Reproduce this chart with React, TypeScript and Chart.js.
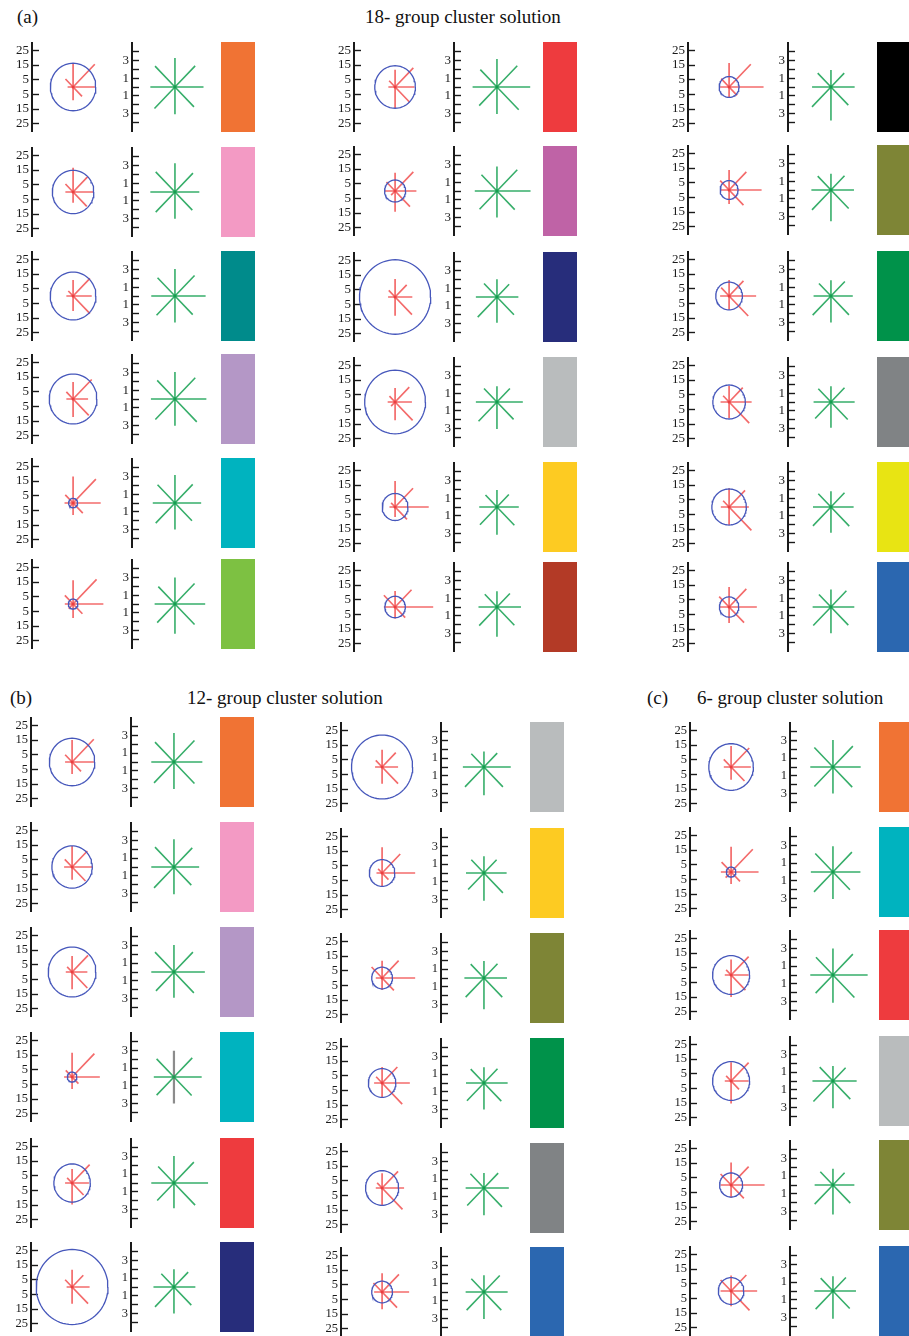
import React, { useEffect, useRef } from "react";
import { Chart, registerables } from "chart.js";
Chart.register(...registerables);

// ---------------- data ----------------
// spoke order for every star: E, NE, N, NW, W, SW, S, SE
const spokeAngles = [0, 45, 90, 135, 180, 225, 270, 315];
const sizeTicks = [-25, -15, -5, 5, 15, 25];
const shapeTicks = [-4, -3, -2, -1, 0, 1, 2, 3, 4];

// (a) 18-group solution, column 1
const circleA1 = [16.2, 14.8, 16.3, 17, 3.2, 3.4];
const redA1 = [
  [15.5, 21.9, 15.9, 7.7, 3.9, 0, 9.1, 9.0],
  [14.8, 14.8, 16.6, 7.7, 5.5, 0, 7.3, 13.8],
  [13.3, 17, 10.9, 4.8, 4.8, 0, 10.2, 17],
  [10.7, 18.8, 11.6, 6.8, 4.8, 0, 12.3, 15.8],
  [19.7, 23, 18, 7.9, 6.1, 3.7, 8.2, 9.8],
  [21.6, 23.7, 16.2, 8.3, 5.9, 4.5, 9.5, 9.4],
];
const greenA1 = [
  [3.4, 3.4, 3.3, 3.35, 2.93, 3.45, 3.1, 3.2],
  [2.9, 3.03, 3.27, 3.24, 2.93, 3.24, 3.04, 2.92],
  [3.65, 3.3, 3.08, 2.93, 2.82, 3.1, 3.0, 2.99],
  [3.74, 3.42, 3.08, 2.99, 2.86, 3.3, 3.04, 3.67],
  [3.12, 2.99, 3.19, 2.93, 2.64, 3.24, 3.0, 2.86],
  [3.6, 3.3, 3.0, 2.8, 2.42, 2.99, 3.38, 3.3],
];
const colorA1 = ["#f07334", "#f39ac4", "#008b8b", "#b497c6", "#00b3bf", "#7dc142"];

// (a) column 2
const circleA2 = [14.5, 7.5, 25.4, 21.7, 9.2, 7.3];
const redA2 = [
  [13.8, 18.4, 11.8, 6, 4.8, 0, 14.3, 14.7],
  [15.2, 18.4, 12.5, 8.7, 7.5, 4, 14.1, 15],
  [12.3, 11.7, 12.3, 6.4, 5, 0, 12.7, 17],
  [12, 14.3, 9.5, 5.7, 5.3, 4, 12.5, 17.7],
  [24, 18.1, 17.7, 4, 4, 0, 6.8, 12],
  [27.2, 16.6, 10.9, 11.3, 8, 0, 8, 10.2],
];
const greenA2 = [
  [3.96, 3.42, 3.19, 2.8, 2.9, 2.99, 3.08, 3.66],
  [4.0, 3.42, 2.78, 2.61, 2.64, 2.93, 3.0, 2.99],
  [2.55, 2.05, 2.03, 2.18, 2.51, 3.24, 2.93, 2.86],
  [3.08, 2.18, 1.8, 2.18, 2.51, 3.1, 3.08, 2.8],
  [2.6, 2.0, 1.92, 1.93, 2.11, 2.86, 3.15, 2.93],
  [2.86, 2.18, 1.8, 2.05, 2.2, 2.99, 3.38, 2.93],
];
const colorA2 = ["#ee3b3e", "#bf63a6", "#272d7b", "#b9bcbd", "#fdcb22", "#b33a26"];

// (a) column 3
const circleA3 = [7.1, 6.4, 9.5, 11.6, 12.3, 6.9];
const redA3 = [
  [24.6, 21.9, 16.4, 8, 6.4, 0, 6.8, 8],
  [23.2, 17.4, 13.6, 9, 6.4, 0, 9.5, 14.5],
  [19.3, 14.5, 10.9, 8, 6.4, 0, 9.3, 19.3],
  [16.1, 13.8, 10.9, 6, 6.1, 0, 10.9, 20.3],
  [14.1, 16.1, 12.8, 6, 5.9, 0, 12.3, 22.5],
  [19.8, 17.4, 13.6, 10, 7, 0, 10.9, 15.1],
];
const greenA3 = [
  [2.82, 2.23, 1.94, 2.23, 2.25, 3.19, 3.8, 2.92],
  [2.74, 2.28, 1.85, 2.23, 2.33, 3.19, 3.56, 2.98],
  [2.6, 2.34, 1.8, 2.02, 2.07, 3.08, 3.02, 3.03],
  [2.82, 2.28, 1.8, 2.13, 2.07, 2.66, 2.93, 2.82],
  [2.7, 2.28, 1.8, 2.13, 2.14, 3.03, 2.93, 3.08],
  [2.78, 2.6, 1.98, 2.02, 2.18, 2.98, 2.97, 2.92],
];
const colorA3 = ["#000000", "#7e8536", "#00924a", "#808385", "#e8e413", "#2b67b0"];

// (b) 12-group solution, column 1
const circleB1 = [16.2, 14.4, 17, 3.4, 13, 25.6];
const redB1 = [
  [15.5, 21.9, 15, 7, 5, 0, 8.2, 9],
  [14.8, 15.4, 14.4, 7.4, 5.7, 0, 8.7, 13.5],
  [10.9, 16.1, 10.9, 5, 4.5, 0, 11.7, 15.4],
  [19.8, 22.5, 16.6, 6.4, 5.7, 0, 8.2, 6.4],
  [12, 17.7, 9.5, 5, 5, 0, 14.7, 11.6],
  [12.5, 11.3, 11.7, 7, 3.9, 0, 11.5, 16.1],
];
const greenB1 = [
  [3.38, 3.45, 3.29, 3.19, 2.7, 3.35, 3.06, 3.45],
  [3.0, 3.08, 3.15, 3.19, 2.7, 3.35, 3.11, 2.92],
  [3.68, 3.19, 3.06, 3.19, 2.7, 3.03, 2.93, 3.35],
  [3.3, 3.08, 2.97, 2.92, 2.4, 2.92, 3.02, 2.98],
  [4.06, 3.35, 3.06, 2.66, 2.7, 2.82, 2.88, 3.56],
  [2.55, 2.39, 2.03, 2.13, 2.44, 3.19, 3.02, 2.92],
];
const colorB1 = ["#f07334", "#f39ac4", "#b497c6", "#00b3bf", "#ee3b3e", "#272d7b"];
const grayStemB1 = [false, false, false, true, false, false];

// (b) column 2
const circleB2 = [21.8, 9.1, 7.4, 9.8, 11.8, 7.4];
const redB2 = [
  [11.4, 13.8, 11.7, 6.4, 5, 0, 11.5, 16.1],
  [23.6, 18.3, 17.5, 4, 4, 0, 9, 6.4],
  [23.6, 16.7, 11.7, 10.6, 4.5, 0, 8.2, 11.9],
  [19.8, 15.4, 10.9, 6, 5.7, 0, 10.1, 20.3],
  [15.7, 16.1, 10.1, 5, 4.5, 0, 11.7, 20.6],
  [19.3, 17, 12.8, 8.7, 5.7, 0, 11.7, 15.1],
];
const greenB2 = [
  [3.19, 2.23, 1.76, 2.13, 2.51, 3.19, 3.2, 3.19],
  [2.7, 2.13, 1.89, 2.13, 2.14, 2.66, 3.15, 3.19],
  [2.74, 2.28, 1.94, 2.23, 2.33, 3.08, 3.56, 3.08],
  [2.82, 2.28, 1.8, 2.23, 2.14, 2.86, 3.02, 2.92],
  [2.96, 2.39, 1.71, 2.28, 2.18, 2.82, 3.11, 3.03],
  [2.82, 2.66, 1.89, 2.13, 2.18, 2.92, 3.06, 2.92],
];
const colorB2 = ["#b9bcbd", "#fdcb22", "#7e8536", "#00924a", "#808385", "#2b67b0"];

// (c) 6-group solution
const circleC = [15.9, 3.4, 13.2, 13.2, 8.2, 9.1];
const redC = [
  [14.1, 18.3, 14.4, 7.4, 5.2, 0, 8.7, 13.5],
  [19.6, 21.9, 17.2, 9.6, 7.3, 5.5, 8.2, 9],
  [12.5, 17.7, 10.6, 5, 4.5, 0, 15, 14.5],
  [12.5, 17.7, 12.8, 5, 4.5, 0, 15.3, 8],
  [23.9, 17.7, 15.3, 10.6, 7.5, 0, 8.7, 12.9],
  [18.6, 15.4, 10.6, 10.6, 7.5, 0, 10.4, 18.6],
];
const greenC = [
  [3.3, 3.35, 3.06, 3.13, 2.7, 3.13, 3.02, 3.24],
  [3.27, 3.19, 2.93, 2.98, 2.63, 3.19, 3.06, 2.86],
  [4.13, 3.35, 3.02, 2.86, 2.7, 2.92, 3.15, 3.61],
  [2.82, 2.13, 1.71, 2.23, 2.44, 3.29, 3.11, 2.92],
  [2.55, 1.96, 1.85, 2.13, 2.18, 3.08, 3.34, 2.92],
  [2.74, 2.18, 1.67, 2.07, 2.22, 2.92, 3.15, 2.82],
];
const colorC = ["#f07334", "#00b3bf", "#ee3b3e", "#b9bcbd", "#7e8536", "#2b67b0"];

// ---------------- layout / style ----------------
const SIZE_MAX = 30;
const SHAPE_MAX = 5;
const PAD = 10;
const AREA_H = 88;
const CANVAS_H = AREA_H + 2 * PAD;
const AXIS_W = 30;
const A_AREA_W = 90;
const B_AREA_W = 88;
const CIRCLE_OFF = 43;
const AXIS2_OFF = 100;
const GREEN_OFF = 45;
const RECT_OFF = 189;

const BLUE = "#4657bb";
const RED = "rgba(240,70,70,0.8)";
const RED_DOT = "#d9262a";
const GREEN = "rgba(20,160,80,0.85)";
const GREEN_DOT = "#0b8a40";
const GRAY = "rgba(120,120,120,0.85)";
const INK = "#1a1a1a";

const columns = [
  { axisX: 32, rows: [87, 192, 296, 399, 503, 604], circle: circleA1, red: redA1, green: greenA1, color: colorA1, gray: null as null | boolean[], font: 13 },
  { axisX: 354, rows: [87, 191, 297, 402, 507, 607], circle: circleA2, red: redA2, green: greenA2, color: colorA2, gray: null, font: 13 },
  { axisX: 688, rows: [87, 190, 296, 402, 507, 607], circle: circleA3, red: redA3, green: greenA3, color: colorA3, gray: null, font: 13 },
  { axisX: 31, rows: [762, 867, 972, 1077, 1183, 1287], circle: circleB1, red: redB1, green: greenB1, color: colorB1, gray: grayStemB1, font: 12.5 },
  { axisX: 341, rows: [767, 873, 978, 1083, 1188, 1292], circle: circleB2, red: redB2, green: greenB2, color: colorB2, gray: null, font: 12.5 },
  { axisX: 690, rows: [767, 872, 975, 1081, 1185, 1291], circle: circleC, red: redC, green: greenC, color: colorC, gray: null, font: 12.5 },
];

function spokes(lengths: number[], which: number[]) {
  const pts: any[] = [];
  which.forEach((k) => {
    const a = (spokeAngles[k] * Math.PI) / 180;
    pts.push({ x: 0, y: 0 });
    pts.push({ x: lengths[k] * Math.cos(a), y: lengths[k] * Math.sin(a) });
    pts.push({ x: 0, y: null });
  });
  return pts;
}

function circlePoints(r: number) {
  const pts: any[] = [];
  for (let i = 0; i <= 72; i++) {
    const t = (i / 72) * 2 * Math.PI;
    pts.push({ x: r * Math.cos(t), y: r * Math.sin(t) });
  }
  return pts;
}

function yAxis(max: number, ticks: number[], fmt: (v: number) => string, fontSize: number) {
  return {
    type: "linear",
    position: "left",
    min: -max,
    max: max,
    afterBuildTicks: (s: any) => {
      s.ticks = ticks.map((v) => ({ value: v }));
    },
    afterFit: (s: any) => {
      s.width = AXIS_W;
      s.paddingTop = 0;
      s.paddingBottom = 0;
    },
    ticks: {
      autoSkip: false,
      padding: 10,
      color: INK,
      font: { family: "Liberation Serif", size: fontSize },
      callback: (v: any) => fmt(Number(v)),
    },
    grid: {
      display: true,
      drawOnChartArea: false,
      drawTicks: true,
      tickLength: -7,
      tickColor: INK,
      tickWidth: 1.4,
    },
    border: { display: true, color: INK, width: 2 },
  };
}

function baseOptions(xMin: number, xMax: number, y: any) {
  return {
    animation: false,
    responsive: false,
    maintainAspectRatio: false,
    events: [],
    layout: { padding: { top: PAD, bottom: PAD, left: 0, right: 0 } },
    plugins: { legend: { display: false }, tooltip: { enabled: false }, title: { display: false } },
    scales: {
      x: { type: "linear", display: false, min: xMin, max: xMax },
      y,
    },
  };
}

const lineDs = (data: any[], color: string, width: number) => ({
  data,
  showLine: true,
  borderColor: color,
  borderWidth: width,
  pointRadius: 0,
  clip: false,
  spanGaps: false,
});

function GlyphCell(props: {
  axisX: number; cy: number; r: number; red: number[]; green: number[];
  color: string; grayStem: boolean; font: number;
}) {
  const { axisX, cy, r, red, green, color, grayStem, font } = props;
  const refA = useRef<HTMLCanvasElement>(null);
  const refB = useRef<HTMLCanvasElement>(null);

  useEffect(() => {
    const ppuA = AREA_H / (2 * SIZE_MAX);
    const ppuB = AREA_H / (2 * SHAPE_MAX);
    const all = [0, 1, 2, 3, 4, 5, 6, 7];
    const chartA = new Chart(refA.current as HTMLCanvasElement, {
      type: "scatter",
      data: {
        datasets: [
          lineDs(circlePoints(r), BLUE, 1.3),
          lineDs(spokes(red, all), RED, 1.7),
          { data: [{ x: 0, y: 0 }], pointRadius: 1.5, backgroundColor: RED_DOT, borderWidth: 0, clip: false },
        ],
      } as any,
      options: baseOptions(
        -CIRCLE_OFF / ppuA,
        (A_AREA_W - CIRCLE_OFF) / ppuA,
        yAxis(SIZE_MAX, sizeTicks, (v) => String(Math.abs(v)), font)
      ) as any,
    });
    const chartB = new Chart(refB.current as HTMLCanvasElement, {
      type: "scatter",
      data: {
        datasets: [
          lineDs(spokes(green, [0, 1, 3, 4, 5, 7]), GREEN, 1.6),
          lineDs(spokes(green, [2, 6]), grayStem ? GRAY : GREEN, grayStem ? 2.2 : 1.6),
          { data: [{ x: 0, y: 0 }], pointRadius: 1.4, backgroundColor: grayStem ? "#333" : GREEN_DOT, borderWidth: 0, clip: false },
        ],
      } as any,
      options: baseOptions(
        -GREEN_OFF / ppuB,
        (B_AREA_W - GREEN_OFF) / ppuB,
        yAxis(SHAPE_MAX, shapeTicks, (v) => (Math.abs(v) % 2 === 1 ? String(Math.abs(v)) : ""), font)
      ) as any,
    });
    return () => {
      chartA.destroy();
      chartB.destroy();
    };
  }, [r, red, green, grayStem, font]);

  const top = cy - CANVAS_H / 2;
  const leftA = axisX - AXIS_W;
  const leftB = axisX + AXIS2_OFF - AXIS_W;
  return (
    <>
      <canvas
        ref={refA}
        width={AXIS_W + A_AREA_W}
        height={CANVAS_H}
        style={{ position: "absolute", left: leftA, top, width: AXIS_W + A_AREA_W, height: CANVAS_H }}
      />
      <canvas
        ref={refB}
        width={AXIS_W + B_AREA_W}
        height={CANVAS_H}
        style={{ position: "absolute", left: leftB, top, width: AXIS_W + B_AREA_W, height: CANVAS_H }}
      />
      <div
        style={{
          position: "absolute",
          left: axisX + RECT_OFF,
          top: cy - 45,
          width: 34,
          height: 90,
          background: color,
        }}
      />
    </>
  );
}

const textStyle: React.CSSProperties = {
  position: "absolute",
  fontFamily: "'Liberation Serif', 'Times New Roman', serif",
  fontSize: 19,
  color: "#111",
  whiteSpace: "nowrap",
  lineHeight: "22px",
};

export default function App() {
  return (
    <div
      style={{
        position: "absolute",
        left: 0,
        top: 0,
        width: 909,
        height: 1336,
        overflow: "hidden",
        background: "#fff",
      }}
    >
      <div style={{ ...textStyle, left: 17, top: 6 }}>(a)</div>
      <div style={{ ...textStyle, left: 365, top: 6 }}>18- group cluster solution</div>
      <div style={{ ...textStyle, left: 10, top: 687 }}>(b)</div>
      <div style={{ ...textStyle, left: 187, top: 687 }}>12- group cluster solution</div>
      <div style={{ ...textStyle, left: 647, top: 687 }}>(c)</div>
      <div style={{ ...textStyle, left: 697, top: 687 }}>6- group cluster solution</div>
      {columns.map((col, ci) =>
        col.rows.map((cy, ri) => (
          <GlyphCell
            key={ci + "-" + ri}
            axisX={col.axisX}
            cy={cy}
            r={col.circle[ri]}
            red={col.red[ri]}
            green={col.green[ri]}
            color={col.color[ri]}
            grayStem={col.gray ? col.gray[ri] : false}
            font={col.font}
          />
        ))
      )}
    </div>
  );
}
